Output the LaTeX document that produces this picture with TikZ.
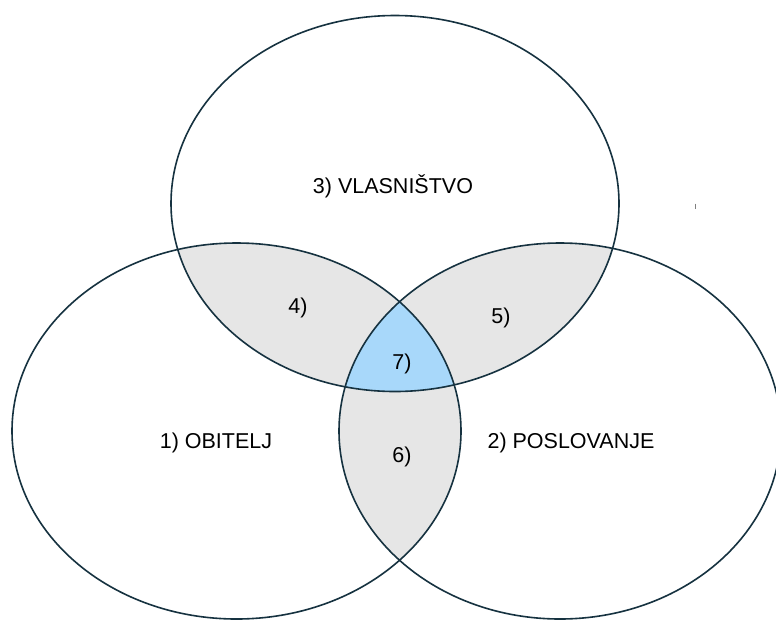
\documentclass[tikz,border=0pt]{standalone}
\usepackage{fontspec}
\setmainfont{Liberation Sans}
\definecolor{outline}{RGB}{22,50,64}
\definecolor{lensgray}{RGB}{230,230,230}
\definecolor{centerblue}{RGB}{168,216,250}
\begin{document}
\begin{tikzpicture}[x=1pt,y=-1pt,
  setline/.style={draw=outline,line width=1.6pt},
  lbl/.style={anchor=base,inner sep=0pt,font=\fontsize{21.5}{26}\selectfont,text=black}]
\useasboundingbox (0,0) rectangle (776,619);
\clip (0,0) rectangle (776,619);
\fill[white] (0,0) rectangle (776,619);
% regions
\def\topE{(395,203.5) ellipse [x radius=224pt, y radius=188pt]}
\def\leftE{(236.5,431) ellipse [x radius=224.5pt, y radius=188pt]}
\def\rightE{(560,431) ellipse [x radius=221pt, y radius=188pt]}
\begin{scope}
  \clip \topE; \fill[lensgray] \leftE;
\end{scope}
\begin{scope}
  \clip \topE; \fill[lensgray] \rightE;
\end{scope}
\begin{scope}
  \clip \leftE; \fill[lensgray] \rightE;
\end{scope}
\begin{scope}
  \clip \topE; \clip \leftE; \fill[centerblue] \rightE;
\end{scope}
\draw[setline] \topE;
\draw[setline] \leftE;
\draw[setline] \rightE;
% tiny tick
\coordinate (tickA) at (695.5,203.5);
\coordinate (tickB) at (695.5,208.5);
\draw[gray,line width=0.8pt] (tickA) -- (tickB);
% labels
\node[lbl] (own) at (393,193.3) {3) VLASNIŠTVO};
\node[lbl] (fam) at (216,448) {1) OBITELJ};
\node[lbl] (bus) at (571,448) {2) POSLOVANJE};
\node[lbl] (r4) at (298,313) {4)};
\node[lbl] (r5) at (501,323) {5)};
\node[lbl] (r6) at (402,462) {6)};
\node[lbl] (r7) at (402,369) {7)};
\end{tikzpicture}
\end{document}
